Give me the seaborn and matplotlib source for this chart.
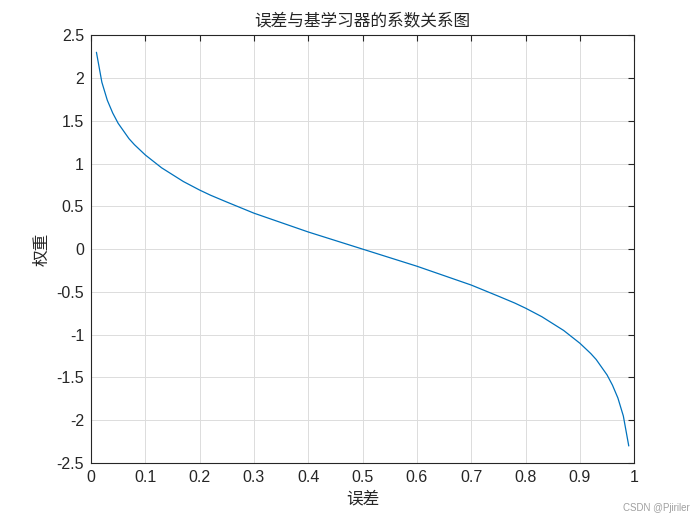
import seaborn as sns
import matplotlib.pyplot as plt
import pandas as pd

# error rate vs. learner weight
error = [0.01, 0.02, 0.03, 0.04, 0.05, 0.06, 0.07, 0.08, 0.09, 0.10, 0.11,
         0.12, 0.13, 0.15, 0.17, 0.20, 0.22, 0.25, 0.30, 0.35, 0.40, 0.45,
         0.50, 0.55, 0.60, 0.65, 0.70, 0.75, 0.78, 0.80, 0.83, 0.85, 0.87,
         0.88, 0.89, 0.90, 0.91, 0.92, 0.93, 0.94, 0.95, 0.96, 0.97, 0.98,
         0.99]
weight = [2.30, 1.95, 1.74, 1.59, 1.47, 1.38, 1.29, 1.22, 1.16, 1.10, 1.05,
          1.00, 0.95, 0.87, 0.79, 0.69, 0.63, 0.55, 0.42, 0.31, 0.20, 0.10,
          0.00, -0.10, -0.20, -0.31, -0.42, -0.55, -0.63, -0.69, -0.79, -0.87, -0.95,
          -1.00, -1.05, -1.10, -1.16, -1.22, -1.29, -1.38, -1.47, -1.59, -1.74, -1.95,
          -2.30]

xticks = [0, 0.1, 0.2, 0.3, 0.4, 0.5, 0.6, 0.7, 0.8, 0.9, 1]
xtick_labels = ['0', '0.1', '0.2', '0.3', '0.4', '0.5', '0.6', '0.7', '0.8', '0.9', '1']
yticks = [-2.5, -2, -1.5, -1, -0.5, 0, 0.5, 1, 1.5, 2, 2.5]
ytick_labels = ['-2.5', '-2', '-1.5', '-1', '-0.5', '0', '0.5', '1', '1.5', '2', '2.5']

df = pd.DataFrame({'error': error, 'weight': weight})

sns.set_style('white')
plt.rcParams['font.family'] = ['Liberation Sans', 'Noto Sans CJK SC', 'DejaVu Sans']

fig = plt.figure(figsize=(7, 5.25), dpi=100)
ax = fig.add_axes([0.13, 0.118, 0.776, 0.815])

sns.lineplot(data=df, x='error', y='weight', color='#0072BD', linewidth=0.9, ax=ax)

ax.set_xlim(0, 1)
ax.set_ylim(-2.5, 2.5)
ax.set_xticks(xticks)
ax.set_xticklabels(xtick_labels)
ax.set_yticks(yticks)
ax.set_yticklabels(ytick_labels)
ax.grid(True, color='#dcdcdc', linewidth=0.7)
ax.tick_params(direction='in', length=4, width=0.8, top=True, right=True,
               labelsize=11.5, colors='#262626', pad=5)
for s in ax.spines.values():
    s.set_color('#262626')
    s.set_linewidth(0.8)

cjk = ['Noto Sans CJK SC', 'DejaVu Sans']
ax.set_title('误差与基学习器的系数关系图', family=cjk, fontsize=12, color='#262626', pad=7)
ax.set_xlabel('误差', family=cjk, fontsize=12, color='#262626', labelpad=4)
ax.set_ylabel('权重', family=cjk, fontsize=12, color='#262626', labelpad=4)

fig.text(0.986, 0.033, 'CSDN @Pjiriler', ha='right', va='center', fontsize=7, color='#a0a0a0')

fig.savefig('out.png', dpi=100)
